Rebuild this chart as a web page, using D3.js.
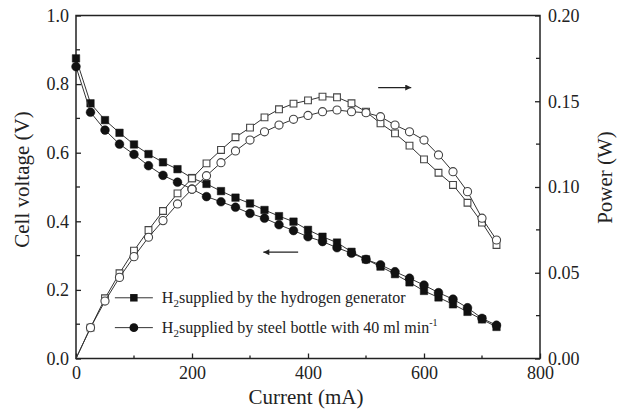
<!DOCTYPE html>
<html>
<head>
<meta charset="utf-8">
<script src="https://cdn.jsdelivr.net/npm/d3@7"></script>
<style>
  body { margin: 0; background: #fff; }
</style>
</head>
<body>
<div id="chart"></div>
<script>
// Data
var current = [0, 25, 50, 75, 100, 125, 150, 175, 200, 225, 250, 275, 300, 325, 350,
               375, 400, 425, 450, 475, 500, 525, 550, 575, 600, 625, 650, 675, 700, 725];

// H2 from the hydrogen generator (squares)
var voltGen = [0.875, 0.744, 0.695, 0.658, 0.624, 0.596, 0.572, 0.552, 0.526, 0.509, 0.488, 0.469, 0.452, 0.433, 0.415,
               0.399, 0.375, 0.355, 0.338, 0.311, 0.289, 0.268, 0.246, 0.222, 0.197, 0.178, 0.158, 0.136, 0.114, 0.092];
var powerGen = [0, 0.018, 0.0351, 0.0497, 0.0629, 0.0749, 0.086, 0.0963, 0.105, 0.1138, 0.1216, 0.129, 0.1346, 0.1406, 0.1453,
                0.1486, 0.1505, 0.1527, 0.1523, 0.1488, 0.1439, 0.1371, 0.1313, 0.1241, 0.1161, 0.1083, 0.1012, 0.0908, 0.0792, 0.0662];

// H2 from the steel bottle (circles)
var voltBottle = [0.851, 0.718, 0.666, 0.625, 0.595, 0.562, 0.534, 0.514, 0.494, 0.472, 0.457, 0.441, 0.423, 0.409, 0.390,
                  0.373, 0.355, 0.341, 0.323, 0.307, 0.289, 0.273, 0.253, 0.234, 0.214, 0.192, 0.173, 0.148, 0.117, 0.097];
var powerBottle = [0, 0.018, 0.0335, 0.0473, 0.0594, 0.0707, 0.0804, 0.0901, 0.0987, 0.1066, 0.1142, 0.121, 0.1274, 0.1322, 0.1361,
                   0.1395, 0.1417, 0.1439, 0.1449, 0.1439, 0.1433, 0.141, 0.1361, 0.1322, 0.1274, 0.1187, 0.1089, 0.0973, 0.0818, 0.0691];

// Axis ticks
var xTicks = [0, 200, 400, 600, 800];
var xMinor = [100, 300, 500, 700];
var vTicks = [0, 0.2, 0.4, 0.6, 0.8, 1.0];
var vMinor = [0.1, 0.3, 0.5, 0.7, 0.9];
var pTicks = [0, 0.05, 0.10, 0.15, 0.20];
var pMinor = [0.025, 0.075, 0.125, 0.175];

var legendLabels = ["supplied by the hydrogen generator", "supplied by steel bottle with 40 ml min"];

var serif = "'Liberation Serif', 'DejaVu Serif', 'Times New Roman', serif";
var width = 624, height = 409;
var margin = { top: 15.5, right: 84, bottom: 50.5, left: 76 };
var w = width - margin.left - margin.right;
var h = height - margin.top - margin.bottom;

var svg = d3.select("#chart").append("svg")
    .attr("width", width)
    .attr("height", height)
    .style("font-family", serif);

var g = svg.append("g")
    .attr("transform", `translate(${margin.left},${margin.top})`);

// Scales
var x = d3.scaleLinear().domain([0, 800]).range([0, w]);
var yV = d3.scaleLinear().domain([0, 1.0]).range([h, 0]);
var yP = d3.scaleLinear().domain([0, 0.20]).range([h, 0]);

// Axes (ticks point inward)
function styleAxis(sel) {
    sel.attr("font-family", null).attr("font-size", null);
    sel.select(".domain").remove();
    sel.selectAll(".tick line").attr("stroke", "#222").attr("stroke-width", 1.3);
    sel.selectAll(".tick text")
        .style("font-family", serif)
        .attr("font-size", 18)
        .attr("fill", "#222");
}

var xAxis = g.append("g")
    .attr("transform", `translate(0,${h})`)
    .call(d3.axisBottom(x).tickValues(xTicks).tickSize(-5).tickPadding(8).tickFormat(d3.format("d")))
    .call(styleAxis);
xAxis.append("g").selectAll("line").data(xMinor).enter().append("line")
    .attr("x1", d => x(d)).attr("x2", d => x(d))
    .attr("y1", 0).attr("y2", -3)
    .attr("stroke", "#222").attr("stroke-width", 1.3);

var yAxisL = g.append("g")
    .call(d3.axisLeft(yV).tickValues(vTicks).tickSize(-5).tickPadding(7).tickFormat(d3.format(".1f")))
    .call(styleAxis);
yAxisL.append("g").selectAll("line").data(vMinor).enter().append("line")
    .attr("x1", 0).attr("x2", 4)
    .attr("y1", d => yV(d)).attr("y2", d => yV(d))
    .attr("stroke", "#222").attr("stroke-width", 1.3);

var yAxisR = g.append("g")
    .attr("transform", `translate(${w},0)`)
    .call(d3.axisRight(yP).tickValues(pTicks).tickSize(-5).tickPadding(8).tickFormat(d3.format(".2f")))
    .call(styleAxis);
yAxisR.append("g").selectAll("line").data(pMinor).enter().append("line")
    .attr("x1", 0).attr("x2", -4)
    .attr("y1", d => yP(d)).attr("y2", d => yP(d))
    .attr("stroke", "#222").attr("stroke-width", 1.3);

// Frame
g.append("rect")
    .attr("width", w).attr("height", h)
    .attr("fill", "none").attr("stroke", "#222").attr("stroke-width", 1.5);

// Build series
function rows(ys) { return current.map((c, i) => ({ x: c, y: ys[i] })); }

var series = [
    { data: rows(voltGen), scale: yV, shape: "square", filled: true },
    { data: rows(voltBottle), scale: yV, shape: "circle", filled: true },
    { data: rows(powerGen), scale: yP, shape: "square", filled: false },
    { data: rows(powerBottle), scale: yP, shape: "circle", filled: false }
];

series.forEach(function(s) {
    var line = d3.line().x(d => x(d.x)).y(d => s.scale(d.y));
    g.append("path")
        .datum(s.data)
        .attr("d", line)
        .attr("fill", "none")
        .attr("stroke", "#333")
        .attr("stroke-width", 1);

    // no marker drawn at zero power (origin)
    var pts = s.data.filter(d => d.y > 0);
    var sym = d3.symbol().type(s.shape === "square" ? d3.symbolSquare : d3.symbolCircle)
        .size(s.shape === "square" ? (s.filled ? 56 : 46) : (s.filled ? 60 : 52));
    g.append("g").selectAll("path")
        .data(pts)
        .enter().append("path")
        .attr("transform", d => `translate(${x(d.x)},${s.scale(d.y)})`)
        .attr("d", sym)
        .attr("fill", s.filled ? "#111" : "#fff")
        .attr("stroke", s.filled ? "#111" : "#444")
        .attr("stroke-width", s.filled ? 0.5 : 1.1);
});

// Direction arrows
var defs = svg.append("defs");
defs.append("marker")
    .attr("id", "arrow")
    .attr("viewBox", "0 0 10 10")
    .attr("refX", 10).attr("refY", 5)
    .attr("markerWidth", 9).attr("markerHeight", 6)
    .attr("markerUnits", "userSpaceOnUse")
    .attr("orient", "auto")
    .append("path").attr("d", "M0,0L10,5L0,10z").attr("fill", "#222");

g.append("line")
    .attr("x1", x(383)).attr("x2", x(323))
    .attr("y1", yV(0.31)).attr("y2", yV(0.31))
    .attr("stroke", "#222").attr("stroke-width", 1.2)
    .attr("marker-end", "url(#arrow)");
g.append("line")
    .attr("x1", x(521)).attr("x2", x(578))
    .attr("y1", yP(0.158)).attr("y2", yP(0.158))
    .attr("stroke", "#222").attr("stroke-width", 1.2)
    .attr("marker-end", "url(#arrow)");

// Legend
var legend = g.append("g").attr("transform", `translate(${x(67)},0)`);
var legendY = [yV(0.177), yV(0.09)];
legendLabels.forEach(function(label, i) {
    var row = legend.append("g").attr("transform", `translate(0,${legendY[i]})`);
    row.append("line")
        .attr("x1", 0).attr("x2", 38)
        .attr("stroke", "#333").attr("stroke-width", 1);
    row.append("path")
        .attr("transform", "translate(19,0)")
        .attr("d", d3.symbol().type(i === 0 ? d3.symbolSquare : d3.symbolCircle).size(i === 0 ? 56 : 60))
        .attr("fill", "#111");
    var t = row.append("text")
        .attr("x", 47).attr("y", 5.5)
        .attr("font-size", 16)
        .attr("fill", "#222");
    t.append("tspan").text("H");
    t.append("tspan").attr("font-size", 11).attr("dy", 4).text("2");
    t.append("tspan").attr("dy", -4).text(label);
    if (i === 1) {
        t.append("tspan").attr("font-size", 10).attr("dy", -7).text("-1");
    }
});

// Axis titles
svg.append("text")
    .attr("transform", `translate(29,${margin.top + 164}) rotate(-90)`)
    .attr("text-anchor", "middle")
    .attr("font-size", 21)
    .attr("fill", "#222")
    .text("Cell voltage (V)");
svg.append("text")
    .attr("transform", `translate(612,${margin.top + 162}) rotate(-90)`)
    .attr("text-anchor", "middle")
    .attr("font-size", 21)
    .attr("fill", "#222")
    .text("Power (W)");
svg.append("text")
    .attr("x", margin.left + x(400) - 2)
    .attr("y", 404)
    .attr("text-anchor", "middle")
    .attr("font-size", 21)
    .attr("fill", "#222")
    .text("Current (mA)");
</script>
</body>
</html>
